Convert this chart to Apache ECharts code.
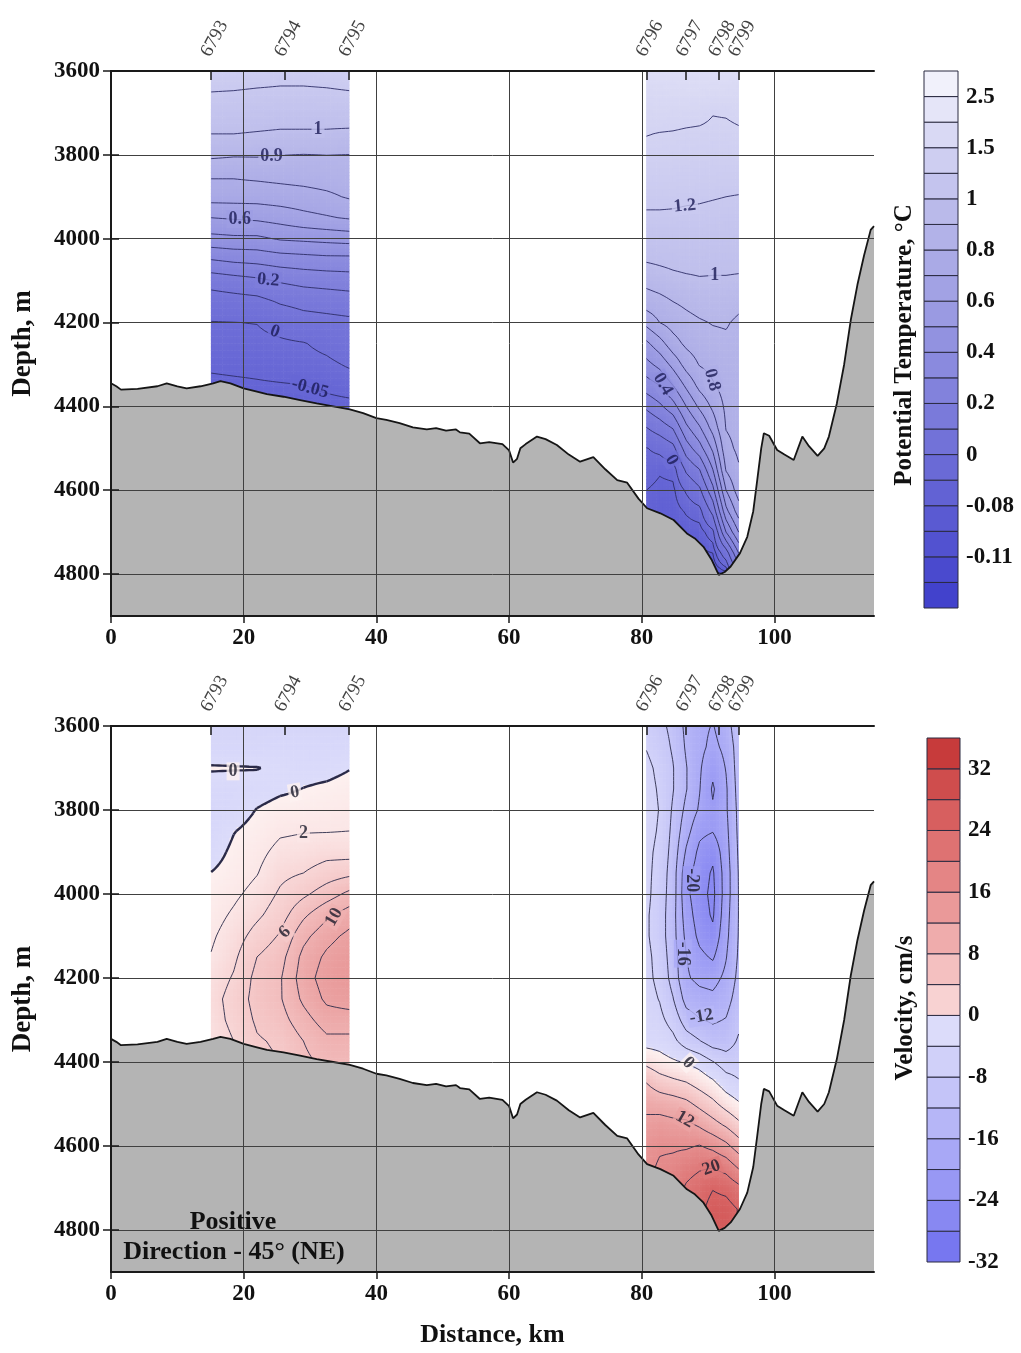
<!DOCTYPE html>
<html>
<head>
<meta charset="utf-8">
<title>Sections</title>
<script src="https://cdn.jsdelivr.net/npm/echarts@6/dist/echarts.min.js"></script>
<style>
html, body { margin: 0; padding: 0; background: #fff; }
#main { width: 1021px; height: 1353px; }
</style>
</head>
<body>
<div id="main"></div>
<script>
// stations on top axis
var stationKm = [15.1, 26.2, 35.9, 80.7, 86.7, 91.6, 94.6];
var stationNames = ['6793', '6794', '6795', '6796', '6797', '6798', '6799'];

var xTicks = [0, 20, 40, 60, 80, 100];
var depthTicks = [3600, 3800, 4000, 4200, 4400, 4600, 4800];

// bottom profile [km, depth m]
var bathymetry = [
    [0, 4345], [0.8, 4352], [1.5, 4360], [4, 4358], [7, 4352], [8.4, 4345], [10, 4352], [11.4, 4357],
    [13.5, 4352], [15.4, 4345], [16.5, 4340], [18, 4345], [20, 4357], [22, 4365], [23.5, 4371],
    [26, 4377], [28.5, 4385], [31, 4393], [33.5, 4400], [36, 4407], [38, 4416], [40, 4428],
    [41.5, 4432], [43.5, 4440], [45.5, 4450], [47.6, 4455], [49, 4452], [50.5, 4458], [52, 4455],
    [52.6, 4462], [54, 4465], [55.6, 4488], [57, 4485], [59, 4490], [60, 4505], [60.6, 4534],
    [61.2, 4525], [61.7, 4500], [62.5, 4490], [64.2, 4472], [65.5, 4478], [67.2, 4492], [69, 4515],
    [70.7, 4532], [72.7, 4521], [74.5, 4550], [76.3, 4576], [77.8, 4582], [79.5, 4620], [80.8, 4643],
    [82.8, 4655], [84.8, 4671], [86.8, 4703], [88, 4715], [89.3, 4735], [90.5, 4765], [91.6, 4802],
    [92.5, 4795], [93.4, 4782], [94.8, 4750], [95.9, 4711], [96.8, 4650], [97.4, 4576], [98, 4500],
    [98.4, 4464], [99.2, 4470], [100.4, 4504], [101.5, 4515], [102.9, 4528], [104.2, 4472],
    [105.2, 4495], [106.5, 4518], [107.5, 4500], [108.2, 4472], [109.4, 4393], [110.5, 4300],
    [111.5, 4194], [112.5, 4110], [113.5, 4040], [114.5, 3979], [115, 3970]
];

// section grids: columns (km) and rows (depth)
var sec1Km = [15.1, 18.5, 22, 25.5, 29, 32.5, 35.9];
var sec1Depth = [3600, 3650, 3700, 3750, 3800, 3850, 3900, 3950, 4000, 4050, 4100, 4150, 4200, 4250, 4300, 4350, 4400, 4450];
var sec2Km = [80.7, 82.7, 84.7, 86.7, 88.7, 90.7, 92.7, 94.6];
var sec2Depth = [3600, 3650, 3700, 3750, 3800, 3850, 3900, 3950, 4000, 4050, 4100, 4150, 4200,
    4250, 4300, 4350, 4400, 4450, 4500, 4550, 4600, 4650, 4700, 4750, 4800, 4850];

// potential temperature, one profile per column
var temp1 = [
    [1.35, 1.2, 1.1, 1.0, 0.92, 0.81, 0.74, 0.6, 0.47, 0.3, 0.14, 0.05, -0.003, -0.02, -0.043, -0.06, -0.07, -0.07],
    [1.35, 1.19, 1.09, 1.0, 0.91, 0.81, 0.74, 0.61, 0.48, 0.32, 0.16, 0.06, -0.001, -0.02, -0.04, -0.058, -0.07, -0.07],
    [1.33, 1.17, 1.08, 0.99, 0.91, 0.82, 0.74, 0.62, 0.48, 0.33, 0.18, 0.07, 0.002, -0.02, -0.038, -0.055, -0.065, -0.065],
    [1.3, 1.16, 1.07, 0.98, 0.902, 0.83, 0.75, 0.64, 0.51, 0.35, 0.21, 0.11, 0.03, -0.012, -0.032, -0.053, -0.065, -0.065],
    [1.3, 1.16, 1.07, 0.98, 0.898, 0.84, 0.76, 0.67, 0.52, 0.36, 0.23, 0.13, 0.06, -0.004, -0.025, -0.051, -0.063, -0.063],
    [1.32, 1.17, 1.07, 0.98, 0.901, 0.85, 0.78, 0.69, 0.53, 0.37, 0.24, 0.14, 0.07, 0.02, -0.015, -0.043, -0.062, -0.062],
    [1.35, 1.19, 1.08, 0.97, 0.899, 0.86, 0.81, 0.71, 0.54, 0.37, 0.25, 0.15, 0.08, 0.05, 0.008, -0.035, -0.06, -0.06]
];
var temp2 = [
    [1.9, 1.75, 1.62, 1.51, 1.42, 1.34, 1.25, 1.17, 1.09, 1.01, 0.93, 0.85, 0.73, 0.58, 0.47, 0.35, 0.22, 0.1, -0.003, -0.03, -0.05, -0.06, -0.06, -0.06, -0.06, -0.06],
    [1.92, 1.77, 1.63, 1.49, 1.42, 1.34, 1.25, 1.17, 1.1, 1.02, 0.95, 0.87, 0.8, 0.66, 0.53, 0.4, 0.28, 0.15, 0.02, -0.045, -0.06, -0.07, -0.07, -0.07, -0.07, -0.07],
    [1.94, 1.79, 1.62, 1.48, 1.41, 1.33, 1.24, 1.17, 1.1, 1.03, 0.97, 0.9, 0.84, 0.76, 0.63, 0.5, 0.36, 0.21, 0.07, -0.036, -0.06, -0.07, -0.075, -0.08, -0.08, -0.08],
    [1.95, 1.8, 1.6, 1.46, 1.4, 1.32, 1.23, 1.16, 1.1, 1.04, 0.98, 0.92, 0.87, 0.82, 0.74, 0.62, 0.5, 0.38, 0.25, 0.12, 0.01, -0.045, -0.07, -0.085, -0.09, -0.09],
    [1.95, 1.8, 1.58, 1.45, 1.39, 1.31, 1.22, 1.16, 1.1, 1.04, 0.99, 0.94, 0.89, 0.85, 0.805, 0.73, 0.62, 0.49, 0.36, 0.2, 0.08, -0.025, -0.07, -0.09, -0.1, -0.1],
    [1.95, 1.78, 1.51, 1.44, 1.38, 1.3, 1.21, 1.15, 1.09, 1.03, 0.99, 0.95, 0.905, 0.87, 0.83, 0.79, 0.72, 0.64, 0.52, 0.4, 0.27, 0.13, -0.02, -0.08, -0.11, -0.11],
    [1.93, 1.76, 1.52, 1.44, 1.38, 1.29, 1.2, 1.14, 1.09, 1.03, 0.99, 0.95, 0.91, 0.88, 0.86, 0.84, 0.82, 0.805, 0.77, 0.71, 0.6, 0.47, 0.3, 0.05, -0.1, -0.11],
    [1.9, 1.72, 1.56, 1.46, 1.39, 1.29, 1.19, 1.14, 1.08, 1.03, 0.985, 0.93, 0.88, 0.87, 0.86, 0.85, 0.84, 0.83, 0.82, 0.79, 0.75, 0.65, 0.5, 0.3, 0.1, 0.1]
];

// velocity, cm/s, one profile per column
var vel1 = [
    [-2.5, -2, 0.3, -1.5, -2, -1.8, -1, 0.05, 0.7, 1.2, 1.7, 2.1, 2.8, 3.2, 3, 2.6, 2.5, 2.5],
    [-2.5, -2, 0.2, -1.5, -1.2, -0.1, 0.5, 0.9, 1.6, 2.3, 3, 3.6, 4.2, 4.8, 4.6, 4, 4, 4],
    [-2.5, -2, 0.1, -1, 0.1, 0.8, 1.4, 1.9, 2.7, 3.6, 4.8, 6, 6.6, 6.7, 6.3, 5.8, 5.5, 5.5],
    [-2.5, -1.5, -0.5, -0.4, 0.8, 1.7, 2.6, 3.5, 4.3, 5.1, 6.2, 7.2, 7.8, 7.8, 7.2, 6.3, 6, 6],
    [-2.5, -1.5, -0.8, 0.05, 0.9, 1.9, 2.8, 4, 5.6, 7.6, 9.4, 10.6, 11, 10.4, 9.2, 8, 7.5, 7.5],
    [-2.5, -1.6, -0.7, 0.4, 1.1, 1.9, 3.3, 5, 7, 9.6, 11.3, 12.4, 13, 12.4, 11, 9.5, 8.5, 8.5],
    [-2.5, -1.5, -0.1, 0.8, 1.5, 2, 3.2, 5.5, 8.5, 11, 12.5, 13.5, 13.8, 13, 11, 9.5, 8.5, 8.5]
];
var vel2 = [
    [-5, -4.2, -3, -2.5, -2, -2.5, -3, -3, -3, -3.5, -3.5, -3, -3, -2.5, -2, -1.5, 3, 8, 11, 13, 14.5, 15, 15, 15, 15, 15],
    [-7, -6, -5, -4.5, -4.2, -4.5, -5, -5.5, -6, -6, -6, -5.5, -5, -4.2, -3, -1.5, 1.5, 6, 10.5, 13.5, 15.5, 16.5, 17, 17, 17, 17],
    [-9, -8.5, -7.8, -7.8, -8.5, -9, -9.5, -10, -10, -10.5, -10.5, -10, -9.5, -7.8, -5.5, -3, 0.5, 5, 10, 13, 15.5, 17, 18, 18, 18, 18],
    [-13, -12.5, -11.8, -11.8, -13, -14.5, -16.5, -18.5, -19, -18, -17, -15.8, -15.5, -13.5, -10, -6, -0.3, 4.2, 9, 13, 15.5, 18.5, 20.5, 21, 21, 21],
    [-15, -15, -15.5, -15.8, -16.5, -19, -21, -22, -22.5, -22, -21, -19, -17, -14.5, -11.8, -7.8, -1.5, 2.5, 7, 11.5, 16.2, 19.5, 22, 23, 23, 23],
    [-16.2, -17, -19, -20.5, -19.5, -19.8, -23, -24.5, -25, -24.5, -23, -20.5, -17.5, -15, -12.5, -10, -3.8, 0.8, 5, 9.5, 15, 19.8, 23.8, 25.5, 26, 26],
    [-14, -15, -15.8, -16.5, -16.5, -17, -17.5, -18, -18, -17.5, -17, -16.2, -15, -13.5, -11.8, -10, -6, -2, 2.5, 7.5, 13, 18.5, 23, 25.5, 26, 26],
    [-9, -10, -10.2, -10.5, -11, -11.2, -11.5, -11.8, -11.9, -11.9, -11.8, -11.5, -11, -10.2, -9, -7.5, -6, -3.5, 0.5, 5, 10, 15.5, 21, 23.8, 23.8, 23.8]
];

// colour scales (bottom band first)
var tempBounds = [-0.14, -0.12, -0.11, -0.1, -0.08, -0.05, 0, 0.1, 0.2, 0.3, 0.4, 0.5, 0.6, 0.7, 0.8, 0.9, 1, 1.2, 1.5, 2, 2.5, 3];
var tempLabelIdx = [2, 4, 6, 8, 10, 12, 14, 16, 18, 20];
var velBounds = [-32, -28, -24, -20, -16, -12, -8, -4, 0, 4, 8, 12, 16, 20, 24, 28, 32, 36];
var velLabelIdx = [0, 2, 4, 6, 8, 10, 12, 14, 16];

var tempLevels = [-0.12, -0.11, -0.1, -0.08, -0.05, 0, 0.1, 0.2, 0.3, 0.4, 0.5, 0.6, 0.7, 0.8, 0.9, 1, 1.2, 1.5, 2, 2.5];
var vel1Levels = [-4, 0, 2, 4, 6, 8, 10, 12];
var vel2Levels = [-24, -20, -16, -12, -8, -4, 0, 4, 8, 12, 16, 20, 24];

// contour labels [km, depth, text, rotation]
var tempLabels = [
    [31.2, 3738, '1', 0], [24.2, 3803, '0.9', 0], [19.4, 3953, '0.6', 0], [23.7, 4099, '0.2', -5],
    [24.7, 4222, '0', -20], [30.0, 4357, '-0.05', -15],
    [86.5, 3922, '1.2', 5], [91.0, 4087, '1', 0], [83.2, 4347, '0.4', -60], [90.6, 4337, '0.8', -75],
    [84.5, 4528, '0', -60]
];
var velLabels = [
    [18.4, 3708, '0', 0], [27.7, 3758, '0', 10], [29, 3856, '2', 0], [26.2, 4091, '6', 45],
    [33.6, 4055, '10', 60],
    [87.5, 3967, '-20', -90], [86.2, 4142, '-16', -90], [89, 4292, '-12', 10], [87, 4402, '0', -45],
    [86.5, 4537, '12', -30], [90.5, 4652, '20', 20]
];

var tempColors = ['#4242cc', '#4a4ace', '#5252d0', '#5a5ad2', '#6262d4', '#6a6ad6', '#7272d8', '#7a7ada',
    '#8282dc', '#8a8ade', '#9292e0', '#9a9ae2', '#a2a2e4', '#aaaae6', '#b2b2e8', '#babaea', '#c4c4ee',
    '#ceceF1', '#d9d9f4', '#e5e5f8', '#f1f1fb'];
var velColors = ['#7777f0', '#8888f2', '#9898f4', '#a8a8f6', '#b6b6f7', '#c4c4f8', '#d0d0f9', '#dcdcfa',
    '#f8d2d2', '#f4c0c0', '#efacac', '#ea9999', '#e48585', '#de7272', '#d75f5f', '#cf4d4d', '#c73b3b'];
var velNegStops = [[-32, '#7070ee'], [-24, '#8a8af2'], [-20, '#9a9af4'], [-16, '#a9a9f6'], [-12, '#b8b8f7'],
    [-8, '#c6c6f8'], [-4, '#d2d2f9'], [0, '#dcdcfa']];
var velPosStops = [[0, '#fdf1f0'], [2, '#fbe6e6'], [4, '#f8d6d6'], [8, '#f2bcbc'], [12, '#eba3a3'],
    [16, '#e58d8d'], [20, '#de7878'], [24, '#d86464'], [28, '#d05252'], [36, '#c63a3a']];

var serif = '"Liberation Serif", "Times New Roman", serif';

function hexRgb(h) {
    h = h.replace('#', '');
    return [parseInt(h.substr(0, 2), 16), parseInt(h.substr(2, 2), 16), parseInt(h.substr(4, 2), 16)];
}
function mix(c1, c2, t) {
    var a = hexRgb(c1), b = hexRgb(c2);
    return 'rgb(' + Math.round(a[0] + (b[0] - a[0]) * t) + ',' + Math.round(a[1] + (b[1] - a[1]) * t) + ',' + Math.round(a[2] + (b[2] - a[2]) * t) + ')';
}
function tempColor(v) {
    var n = tempBounds.length - 1, p;
    if (v <= tempBounds[0]) p = 0;
    else if (v >= tempBounds[n]) p = n;
    else {
        for (var k = 0; k < n; k++) {
            if (v < tempBounds[k + 1]) { p = k + (v - tempBounds[k]) / (tempBounds[k + 1] - tempBounds[k]); break; }
        }
    }
    var q = Math.min(Math.max(p - 0.5, 0), n - 1);
    var i = Math.floor(q);
    if (i >= n - 1) return tempColors[n - 1];
    return mix(tempColors[i], tempColors[i + 1], q - i);
}
function velColor(v) {
    var s = v < 0 ? velNegStops : velPosStops;
    if (v <= s[0][0]) return s[0][1];
    for (var k = 0; k < s.length - 1; k++) {
        if (v <= s[k + 1][0]) return mix(s[k][1], s[k + 1][1], (v - s[k][0]) / (s[k + 1][0] - s[k][0]));
    }
    return s[s.length - 1][1];
}

function makeCells(km, depth) {
    var cells = [];
    for (var i = 0; i < km.length - 1; i++) {
        for (var j = 0; j < depth.length - 1; j++) cells.push([km[i], depth[j], i, j]);
    }
    return cells;
}

function cellCorners(km, depth, V, cell, api) {
    var i = cell[2], j = cell[3];
    var p0 = api.coord([km[i], depth[j]]);
    var p1 = api.coord([km[i + 1], depth[j + 1]]);
    return { a: V[i][j], b: V[i + 1][j], c: V[i + 1][j + 1], d: V[i][j + 1], x: p0[0], y: p0[1], w: p1[0] - p0[0], h: p1[1] - p0[1] };
}

function fieldSeries(ax, km, depth, V, colorFn) {
    var cells = makeCells(km, depth);
    return {
        type: 'custom', xAxisIndex: ax, yAxisIndex: ax, z: 1, silent: true, progressive: 0,
        data: cells.map(function (c) { return [c[0], c[1]]; }),
        renderItem: function (params, api) {
            var q = cellCorners(km, depth, V, cells[params.dataIndex], api);
            var nx = Math.max(2, Math.round(Math.abs(q.w) / 3.5));
            var ny = Math.max(2, Math.round(Math.abs(q.h) / 3.5));
            var kids = [];
            for (var sy = 0; sy < ny; sy++) {
                for (var sx = 0; sx < nx; sx++) {
                    var u = (sx + 0.5) / nx, t = (sy + 0.5) / ny;
                    var v = q.a * (1 - u) * (1 - t) + q.b * u * (1 - t) + q.c * u * t + q.d * (1 - u) * t;
                    kids.push({
                        type: 'rect',
                        shape: { x: q.x + q.w * sx / nx - 0.3, y: q.y + q.h * sy / ny - 0.3, width: q.w / nx + 0.6, height: q.h / ny + 0.6 },
                        style: { fill: colorFn(v) }
                    });
                }
            }
            return { type: 'group', children: kids };
        }
    };
}

function contourSeries(ax, km, depth, V, levels, color, boldLevel, boldWidth) {
    var cells = makeCells(km, depth);
    return {
        type: 'custom', xAxisIndex: ax, yAxisIndex: ax, z: 3, silent: true, progressive: 0,
        data: cells.map(function (c) { return [c[0], c[1]]; }),
        renderItem: function (params, api) {
            var q = cellCorners(km, depth, V, cells[params.dataIndex], api);
            var nx = Math.max(2, Math.round(Math.abs(q.w) / 4));
            var ny = Math.max(2, Math.round(Math.abs(q.h) / 4));
            var node = [];
            for (var sy = 0; sy <= ny; sy++) {
                for (var sx = 0; sx <= nx; sx++) {
                    var u = sx / nx, t = sy / ny;
                    node.push(q.a * (1 - u) * (1 - t) + q.b * u * (1 - t) + q.c * u * t + q.d * (1 - u) * t);
                }
            }
            var thin = '', bold = '';
            levels.forEach(function (L) {
                var d = '';
                for (var gy = 0; gy < ny; gy++) {
                    for (var gx = 0; gx < nx; gx++) {
                        var cs = [[gx, gy], [gx + 1, gy], [gx + 1, gy + 1], [gx, gy + 1]];
                        var vv = cs.map(function (k) { return node[k[1] * (nx + 1) + k[0]]; });
                        var pts = [];
                        for (var e = 0; e < 4; e++) {
                            var A = e, B = (e + 1) % 4;
                            if ((vv[A] >= L) !== (vv[B] >= L)) {
                                var f = (L - vv[A]) / (vv[B] - vv[A]);
                                var ux = cs[A][0] + f * (cs[B][0] - cs[A][0]);
                                var uy = cs[A][1] + f * (cs[B][1] - cs[A][1]);
                                pts.push([q.x + q.w * ux / nx, q.y + q.h * uy / ny]);
                            }
                        }
                        var segs = [];
                        if (pts.length === 2) segs.push([pts[0], pts[1]]);
                        else if (pts.length === 4) {
                            var mid = (vv[0] + vv[1] + vv[2] + vv[3]) / 4;
                            if ((vv[0] >= L) === (mid >= L)) { segs.push([pts[0], pts[1]]); segs.push([pts[2], pts[3]]); }
                            else { segs.push([pts[3], pts[0]]); segs.push([pts[1], pts[2]]); }
                        }
                        segs.forEach(function (s) {
                            d += 'M' + s[0][0].toFixed(2) + ' ' + s[0][1].toFixed(2) + 'L' + s[1][0].toFixed(2) + ' ' + s[1][1].toFixed(2);
                        });
                    }
                }
                if (L === boldLevel) bold += d; else thin += d;
            });
            var kids = [];
            if (thin) kids.push({ type: 'path', shape: { pathData: thin }, style: { stroke: color, lineWidth: 0.9, fill: null } });
            if (bold) kids.push({ type: 'path', shape: { pathData: bold }, style: { stroke: color, lineWidth: boldWidth, fill: null } });
            return { type: 'group', children: kids };
        }
    };
}

function labelSeries(ax, labels, colorFn, textColor) {
    return {
        type: 'scatter', xAxisIndex: ax, yAxisIndex: ax, z: 4, silent: true,
        symbolSize: 1, itemStyle: { color: 'rgba(0,0,0,0)' },
        data: labels.map(function (l) {
            return {
                value: [l[0], l[1]],
                label: { formatter: l[2], rotate: l[3], backgroundColor: colorFn(parseFloat(l[2])) }
            };
        }),
        label: {
            show: true, position: 'inside', color: textColor, fontFamily: serif, fontWeight: 'bold',
            fontSize: 18, padding: [0, 2]
        },
        labelLayout: { hideOverlap: false }
    };
}

// station names above the top axis
function stationSeries(ax) {
    return {
        type: 'scatter', xAxisIndex: ax, yAxisIndex: ax, z: 12, silent: true, clip: false,
        symbolSize: 1, itemStyle: { color: 'rgba(0,0,0,0)' },
        data: stationKm.map(function (k, i) { return { value: [k, 3600], name: stationNames[i] }; }),
        label: {
            show: true, position: [-5, -15], align: 'left', verticalAlign: 'middle', rotate: 62,
            formatter: '{b}', fontFamily: serif, fontSize: 19, color: '#111'
        },
        labelLayout: { hideOverlap: false }
    };
}

function bathySeries(ax) {
    return {
        type: 'line', xAxisIndex: ax, yAxisIndex: ax, z: 5, silent: true, symbol: 'none',
        data: bathymetry,
        lineStyle: { color: '#151515', width: 1.8 },
        areaStyle: { color: '#b4b4b4', opacity: 1, origin: 'end' }
    };
}

function colorbarSeries(ax, colors) {
    return {
        type: 'custom', xAxisIndex: ax, yAxisIndex: ax, silent: true,
        data: colors.map(function (c, k) { return [0, k]; }),
        renderItem: function (params, api) {
            var k = params.dataIndex;
            var p0 = api.coord([0, k + 1]), p1 = api.coord([1, k]);
            return {
                type: 'rect',
                shape: { x: p0[0], y: p0[1], width: p1[0] - p0[0], height: p1[1] - p0[1] },
                style: { fill: colors[k], stroke: '#2a2a40', lineWidth: 1 }
            };
        }
    };
}

var axisLineStyle = { color: '#1a1a1a', width: 2 };
var tickFont = { fontFamily: serif, fontWeight: 'bold', fontSize: 23, color: '#111' };
function plainNum(v) { return String(v); }

function bottomX(g, withName) {
    return {
        gridIndex: g, type: 'value', position: 'bottom', min: 0, max: 115, z: 10,
        name: withName ? 'Distance, km' : '', nameLocation: 'middle', nameGap: 50,
        nameTextStyle: { fontFamily: serif, fontWeight: 'bold', fontSize: 26, color: '#111' },
        axisLine: { lineStyle: axisLineStyle },
        axisTick: { customValues: xTicks, length: 7, lineStyle: { color: '#1a1a1a', width: 1.5 } },
        axisLabel: Object.assign({ customValues: xTicks, margin: 11, formatter: plainNum }, tickFont),
        splitLine: { show: true, lineStyle: { color: '#404040', width: 1 } }
    };
}
function topX(g) {
    return {
        gridIndex: g, type: 'value', position: 'top', min: 0, max: 115, z: 10,
        axisLine: { lineStyle: axisLineStyle },
        axisTick: { customValues: stationKm, inside: true, length: 9, lineStyle: { color: '#1a1a1a', width: 1.5 } },
        axisLabel: { show: false },
        splitLine: { show: false }
    };
}
function leftY(g) {
    return {
        gridIndex: g, type: 'value', position: 'left', inverse: true, min: 3600, max: 4900, interval: 200, z: 10,
        name: 'Depth, m', nameLocation: 'middle', nameGap: 74, nameRotate: 90,
        nameTextStyle: { fontFamily: serif, fontWeight: 'bold', fontSize: 27, color: '#111' },
        axisLine: { lineStyle: axisLineStyle },
        axisTick: { customValues: depthTicks, length: 8, lineStyle: { color: '#1a1a1a', width: 1.5 } },
        axisLabel: Object.assign({ customValues: depthTicks, margin: 11, formatter: plainNum }, tickFont),
        splitLine: { show: true, lineStyle: { color: '#404040', width: 1 } }
    };
}
function rightY(g) {
    return {
        gridIndex: g, type: 'value', position: 'right', inverse: true, min: 3600, max: 4900, interval: 200, z: 10,
        axisLine: { lineStyle: axisLineStyle },
        axisTick: { customValues: depthTicks, length: 8, lineStyle: { color: '#1a1a1a', width: 1.5 } },
        axisLabel: { show: false },
        splitLine: { show: false }
    };
}
function cbX(g) {
    return { gridIndex: g, type: 'value', min: 0, max: 1, show: false };
}
function cbY(g, n, idx, bounds) {
    return {
        gridIndex: g, type: 'value', position: 'right', min: 0, max: n,
        axisLine: { show: false }, axisTick: { show: false }, splitLine: { show: false },
        axisLabel: {
            customValues: idx, margin: 8, fontFamily: serif, fontWeight: 'bold', fontSize: 23, color: '#111',
            formatter: function (v) { return String(bounds[Math.round(v)]); }
        }
    };
}

var myChart = echarts.init(document.getElementById('main'));

var option = {
    animation: false,
    backgroundColor: '#ffffff',
    grid: [
        { left: 111, top: 71, width: 763, height: 545 },
        { left: 111, top: 726, width: 763, height: 546 },
        { left: 924, top: 71, width: 34, height: 537 },
        { left: 927, top: 738, width: 33, height: 524 }
    ],
    xAxis: [bottomX(0, false), topX(0), bottomX(1, true), topX(1), cbX(2), cbX(3)],
    yAxis: [leftY(0), rightY(0), leftY(1), rightY(1),
        cbY(2, tempColors.length, tempLabelIdx, tempBounds),
        cbY(3, velColors.length, velLabelIdx, velBounds)],
    graphic: [
        {
            type: 'text', x: 905, y: 345, rotation: Math.PI / 2, z: 50,
            style: { text: 'Potential Temperature, °C', font: 'bold 25px ' + serif, fill: '#111', align: 'center', verticalAlign: 'middle' }
        },
        {
            type: 'text', x: 906, y: 1008, rotation: Math.PI / 2, z: 50,
            style: { text: 'Velocity, cm/s', font: 'bold 25px ' + serif, fill: '#111', align: 'center', verticalAlign: 'middle' }
        },
        {
            type: 'text', x: 233, y: 1222, z: 50,
            style: { text: 'Positive', font: 'bold 26px ' + serif, fill: '#111', align: 'center', verticalAlign: 'middle' }
        },
        {
            type: 'text', x: 234, y: 1252, z: 50,
            style: { text: 'Direction - 45° (NE)', font: 'bold 26px ' + serif, fill: '#111', align: 'center', verticalAlign: 'middle' }
        }
    ],
    series: [
        fieldSeries(0, sec1Km, sec1Depth, temp1, tempColor),
        fieldSeries(0, sec2Km, sec2Depth, temp2, tempColor),
        contourSeries(0, sec1Km, sec1Depth, temp1, tempLevels, '#2c2c66', null, 1),
        contourSeries(0, sec2Km, sec2Depth, temp2, tempLevels, '#2c2c66', null, 1),
        labelSeries(0, tempLabels, tempColor, '#1a1a55'),
        bathySeries(0),
        stationSeries(0),

        fieldSeries(2, sec1Km, sec1Depth, vel1, velColor),
        fieldSeries(2, sec2Km, sec2Depth, vel2, velColor),
        contourSeries(2, sec1Km, sec1Depth, vel1, vel1Levels, '#2a2a48', 0, 2.4),
        contourSeries(2, sec2Km, sec2Depth, vel2, vel2Levels, '#2a2a48', null, 1),
        labelSeries(2, velLabels, velColor, '#1a1a2a'),
        bathySeries(2),
        stationSeries(2),

        colorbarSeries(4, tempColors),
        colorbarSeries(5, velColors)
    ]
};
myChart.setOption(option);
</script>
</body>
</html>
